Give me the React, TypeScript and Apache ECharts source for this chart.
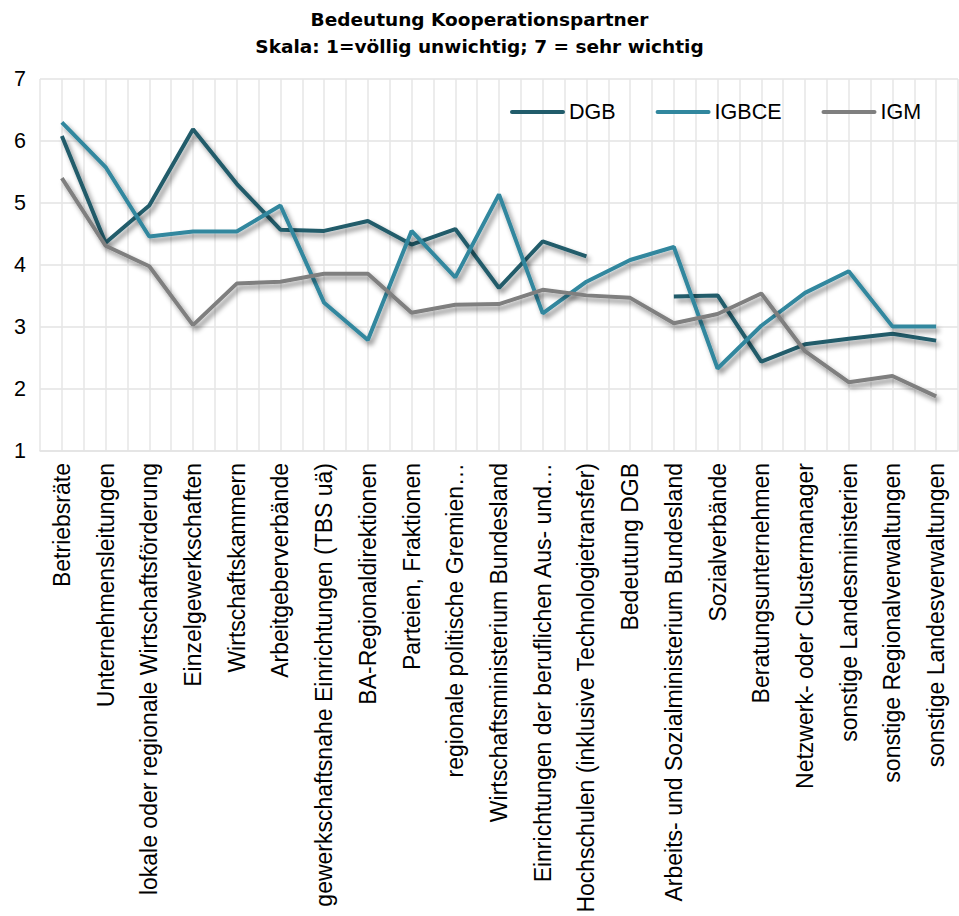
import React, { useEffect, useRef } from "react";
import * as echarts from "echarts";

const titleLines = ["Bedeutung Kooperationspartner", "Skala: 1=völlig unwichtig; 7 = sehr wichtig"];

const categories = [
  "Betriebsräte",
  "Unternehmensleitungen",
  "lokale oder regionale Wirtschaftsförderung",
  "Einzelgewerkschaften",
  "Wirtschaftskammern",
  "Arbeitgeberverbände",
  "gewerkschaftsnahe Einrichtungen (TBS uä)",
  "BA-Regionaldirektionen",
  "Parteien, Fraktionen",
  "regionale politische Gremien…",
  "Wirtschaftsministerium Bundesland",
  "Einrichtungen der beruflichen Aus- und…",
  "Hochschulen (inklusive Technologietransfer)",
  "Bedeutung DGB",
  "Arbeits- und Sozialministerium Bundesland",
  "Sozialverbände",
  "Beratungsunternehmen",
  "Netzwerk- oder Clustermanager",
  "sonstige Landesministerien",
  "sonstige Regionalverwaltungen",
  "sonstige Landesverwaltungen",
];

const dgb = [6.08, 4.36, 4.96, 6.19, 5.31, 4.57, 4.55, 4.71, 4.33, 4.58, 3.63, 4.38, 4.14, null, 3.49, 3.51, 2.44, 2.72, 2.81, 2.89, 2.78];
const igbce = [6.3, 5.58, 4.46, 4.54, 4.54, 4.96, 3.39, 2.79, 4.55, 3.8, 5.14, 3.22, 3.73, 4.08, 4.29, 2.33, 3.02, 3.55, 3.9, 3.01, 3.01];
const igm = [5.4, 4.31, 3.98, 3.03, 3.7, 3.73, 3.86, 3.86, 3.23, 3.36, 3.37, 3.6, 3.51, 3.47, 3.06, 3.21, 3.54, 2.61, 2.11, 2.21, 1.88];

const seriesNames = ["DGB", "IGBCE", "IGM"];
const yTicks = { min: 1, max: 7, interval: 1 };

export default function App() {
  const ref = useRef<HTMLDivElement>(null);
  useEffect(() => {
    if (!ref.current) return;
    const chart = echarts.init(ref.current, undefined, { renderer: "svg" });
    const colors = ["#215C6B", "#31879E", "#7F7F7F"];
    const font = "'Liberation Sans', Arial, sans-serif";
    const mk = (name: string, data: (number | null)[], color: string) => ({
      name,
      type: "line",
      xAxisIndex: 0,
      data,
      symbol: "none",
      connectNulls: false,
      lineStyle: {
        width: 4,
        color,
        shadowColor: "rgba(0,0,0,0.45)",
        shadowBlur: 5,
        shadowOffsetX: 3,
        shadowOffsetY: 4,
      },
      itemStyle: { color },
      z: 3,
    });
    chart.setOption({
      animation: false,
      backgroundColor: "#ffffff",
      title: {
        text: titleLines.join("\n"),
        left: "center",
        top: 1,
        textStyle: {
          fontFamily: "'DejaVu Sans', sans-serif",
          fontWeight: "bold",
          fontSize: 18.5,
          lineHeight: 27,
          color: "#000",
        },
      },
      legend: {
        data: seriesNames,
        left: 505,
        top: 96,
        itemWidth: 55,
        itemHeight: 16,
        itemGap: 40,
        icon: "path://M2,0 L53,0 A2,2 0 0 1 53,4 L2,4 A2,2 0 0 1 2,0 Z",
        textStyle: { fontFamily: font, fontSize: 21.5, color: "#000", padding: [0, 0, 0, -1] },
      },
      grid: { left: 40, right: 1, top: 79, bottom: 461, containLabel: false },
      xAxis: [
        {
          type: "category",
          data: categories,
          boundaryGap: true,
          axisTick: { show: false },
          axisLine: { show: true, lineStyle: { color: "#e3e3e3", width: 1.5 } },
          splitLine: { show: false },
          axisLabel: {
            interval: 0,
            rotate: 90,
            margin: 12,
            fontFamily: font,
            fontSize: 23,
            color: "#000",
          },
        },
        {
          type: "value",
          min: 0,
          max: 42,
          interval: 1,
          position: "top",
          axisLabel: { show: false },
          axisLine: { show: false },
          axisTick: { show: false },
          splitLine: { show: true, lineStyle: { color: "#e6e6e6", width: 1.5 } },
        },
      ],
      yAxis: {
        type: "value",
        min: yTicks.min,
        max: yTicks.max,
        interval: yTicks.interval,
        axisLine: { show: false },
        axisTick: { show: false },
        axisLabel: { margin: 14, fontFamily: font, fontSize: 21.5, color: "#000" },
        splitLine: { show: true, lineStyle: { color: "#e3e3e3", width: 1.5 } },
      },
      series: [mk("DGB", dgb, colors[0]), mk("IGBCE", igbce, colors[1]), mk("IGM", igm, colors[2])],
    });
    return () => chart.dispose();
  }, []);
  return (
    <div
      ref={ref}
      style={{ position: "fixed", left: 0, top: 0, width: 959, height: 916, background: "#fff" }}
    />
  );
}
